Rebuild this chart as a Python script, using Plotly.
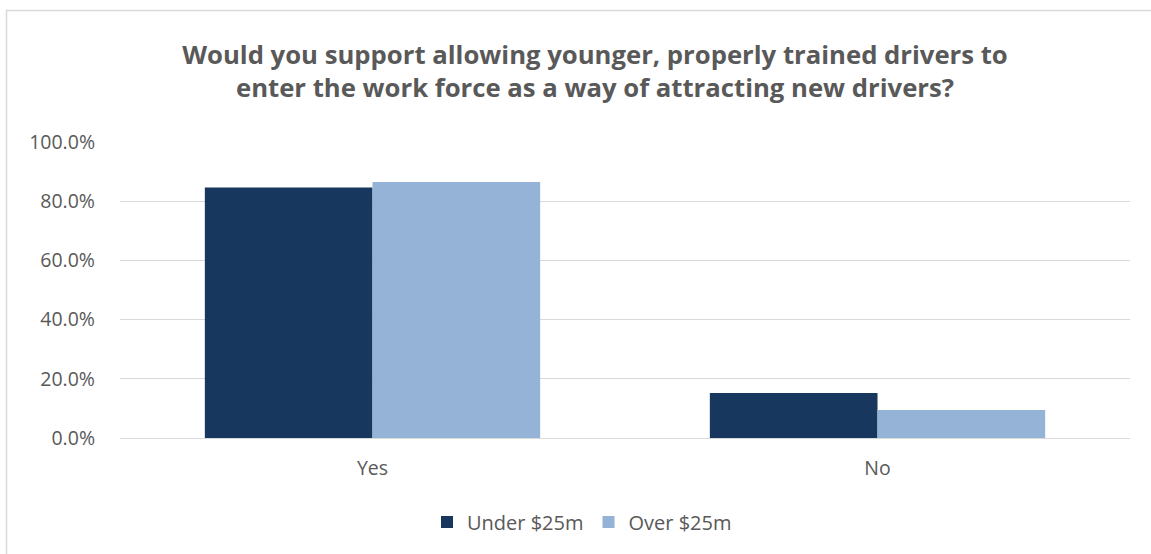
import plotly.graph_objects as go

categories = ["Yes", "No"]
under_25m = [0.846, 0.152]
over_25m = [0.865, 0.095]
series_names = ["Under $25m", "Over $25m"]
y_ticks = [0, 0.2, 0.4, 0.6, 0.8, 1.0]
y_tick_labels = ["0.0%", "20.0%", "40.0%", "60.0%", "80.0%", "100.0%"]

W, H = 1151, 554
L, R, T, B = 120, 21, 142, 116
FS = 19.5

fig = go.Figure()
fig.add_trace(go.Bar(x=categories, y=under_25m, name=series_names[0],
                     marker=dict(color="#17375e", line=dict(width=0))))
fig.add_trace(go.Bar(x=categories, y=over_25m, name=series_names[1],
                     marker=dict(color="#95b3d7", line=dict(width=0))))

pw, ph = W - L - R, H - T - B
fig.add_shape(type="rect", xref="paper", yref="paper",
              x0=(6.5 - L) / pw, x1=(W + 20 - L) / pw,
              y0=(H - B - (H + 20)) / ph, y1=(H - B - 10.5) / ph,
              line=dict(color="#d9d9d9", width=1.5), fillcolor="rgba(0,0,0,0)", layer="below")

fig.update_layout(
    width=W, height=H,
    margin=dict(l=L, r=R, t=T, b=B),
    paper_bgcolor="white", plot_bgcolor="white",
    barmode="group", bargap=0.336, bargroupgap=0,
    font=dict(family="Open Sans", color="#595959", size=FS),
    title=dict(text="Would you support allowing younger, properly trained drivers to<br>enter the work force as a way of attracting new drivers?",
               x=595 / W, xanchor="center", y=1 - 63.5 / H, yanchor="middle",
               font=dict(family="Open Sans", size=25.7, color="#595959", weight="bold")),
    xaxis=dict(showgrid=False, showline=False, ticks="", ticklabelstandoff=16,
               tickfont=dict(size=FS, color="#595959")),
    yaxis=dict(range=[0, 1.0], tickvals=y_ticks, ticktext=y_tick_labels,
               showgrid=True, gridcolor="#d9d9d9", gridwidth=1,
               zeroline=True, zerolinecolor="#d9d9d9", zerolinewidth=1,
               showline=False, ticks="", ticklabelstandoff=24,
               tickfont=dict(size=FS, color="#595959")),
    legend=dict(orientation="h", x=(582 - L) / pw, xanchor="center", y=-(522 - (H - B)) / ph, yanchor="middle",
                font=dict(size=20, color="#595959"), itemwidth=30, traceorder="normal"),
    showlegend=True,
)

fig.write_html("out.html")
